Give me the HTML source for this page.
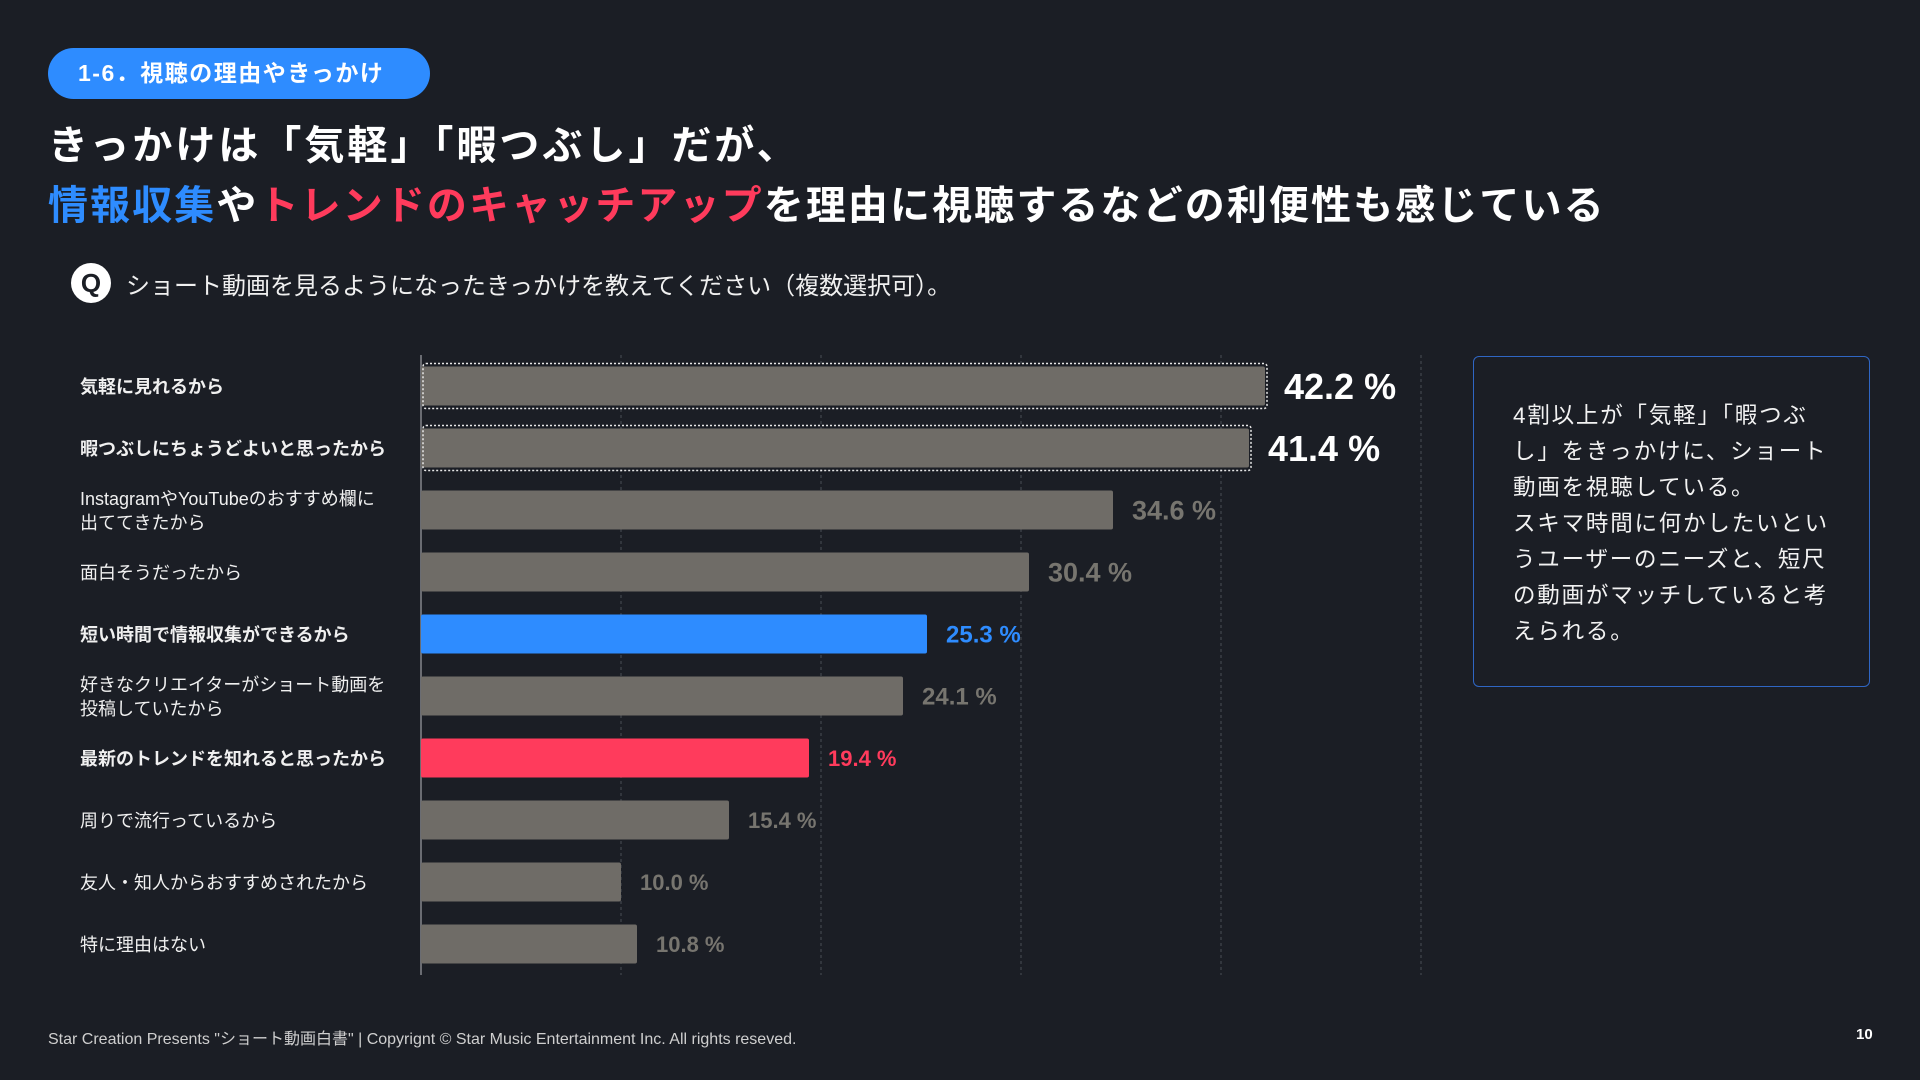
<!DOCTYPE html>
<html><head><meta charset="utf-8"><style>
body{margin:0;width:1920px;height:1080px;background:#1b1e25;overflow:hidden;font-family:"Liberation Sans","Noto Sans CJK JP",sans-serif;color:#fff;position:relative}
.abs{position:absolute}
#pill{left:48px;top:48px;width:382px;height:51px;border-radius:26px;background:#2e8cff;font-weight:bold;font-size:23px;line-height:51px;text-indent:30px;letter-spacing:1.5px}
.title{left:48px;font-size:40px;font-weight:bold;letter-spacing:2.1px;white-space:nowrap}
#note{left:1473px;top:356px;width:397px;height:331px;border:1.5px solid #2f66c4;border-radius:6px;box-sizing:border-box}
#notetext{left:1513px;top:398px;font-size:22.5px;line-height:36px;letter-spacing:1.8px;color:#f2f2f2}
#footer{left:48px;top:1025px;font-size:16px;color:#cfcfcf;white-space:nowrap}
</style></head><body>
<div id="pill" class="abs">1-6．視聴の理由やきっかけ</div>
<div class="abs title" style="top:113px;letter-spacing:3px">きっかけは「気軽」「暇つぶし」だが、</div>
<div class="abs title" style="top:173px"><span style="color:#2e8cff">情報収集</span>や<span style="color:#ff3b5c">トレンドのキャッチアップ</span>を理由に視聴するなどの利便性も感じている</div>
<div class="abs" style="left:71px;top:263px;width:40px;height:40px;border-radius:50%;background:#fff;color:#1b1e25;font-weight:bold;font-size:26px;line-height:40px;text-align:center">Q</div>
<div class="abs" style="left:126px;top:266px;font-size:24px;color:#f0f0f0;white-space:nowrap">ショート動画を見るようになったきっかけを教えてください（複数選択可）。</div>

<svg class="abs" style="left:0;top:0" width="1920" height="1080"></svg>

<div id="note" class="abs"></div>
<div id="notetext" class="abs">4割以上が「気軽」「暇つぶ<br>し」をきっかけに、ショート<br>動画を視聴している。<br>スキマ時間に何かしたいとい<br>うユーザーのニーズと、短尺<br>の動画がマッチしていると考<br>えられる。</div>
<div id="footer" class="abs">Star Creation Presents "ショート動画白書" | Copyrignt © Star Music Entertainment Inc. All rights reseved.</div>
<div class="abs" style="left:1856px;top:1026px;font-size:15px;font-weight:bold">10</div>

<script>
const categories=["気軽に見れるから","暇つぶしにちょうどよいと思ったから","InstagramやYouTubeのおすすめ欄に|出ててきたから","面白そうだったから","短い時間で情報収集ができるから","好きなクリエイターがショート動画を|投稿していたから","最新のトレンドを知れると思ったから","周りで流行っているから","友人・知人からおすすめされたから","特に理由はない"];
const values=[42.2,41.4,34.6,30.4,25.3,24.1,19.4,15.4,10.0,10.8];
const gridTicks=[10,20,30,40,50];
const highlight=["top","top","","","blue","","red","","",""];

const NS="http://www.w3.org/2000/svg";
const svg=document.querySelector("svg");
const x0=421,pxPer=20,yTop=355,rowH=62,barH=39;
const xs=v=>x0+v*pxPer;
const yc=i=>386+i*rowH;
function mk(t,a){const e=document.createElementNS(NS,t);for(const k in a)e.setAttribute(k,a[k]);svg.appendChild(e);return e;}
gridTicks.forEach(t=>{
  const g=mk("line",{x1:xs(t),x2:xs(t),y1:yTop,y2:975,stroke:"#4a4d55","stroke-width":1,"stroke-dasharray":"3,3"});
  
  
});
const ax=mk("line",{x1:x0,x2:x0,y1:yTop,y2:975,stroke:"#6a6c72","stroke-width":2});


values.forEach((v,i)=>{
  const h=highlight[i];
  const fill=h==="blue"?"#2e8cff":h==="red"?"#ff3b5c":"#6f6c67";
  const r=mk("rect",{x:x0,y:yc(i)-barH/2,width:v*pxPer,height:barH,fill:fill,rx:2});
  
  
  if(h==="top"){
    const o=mk("rect",{x:x0+2,y:yc(i)-barH/2-3,width:v*pxPer,height:barH+6,fill:"none",stroke:"#e8e8e8","stroke-width":1.5,"stroke-dasharray":"2,2",rx:3});
    
    
  }
  const big=h==="top";
  const size=big?36:(v>=30?27:(v>=24?24:22));
  const col=big?"#ffffff":h==="blue"?"#2e8cff":h==="red"?"#ff3b5c":"#77756f";
  const t=mk("text",{x:xs(v)+19,y:yc(i)+size*0.36,fill:col,"font-size":size,"font-weight":"bold","font-family":"Liberation Sans, sans-serif"});
  t.textContent=v.toFixed(1)+" %";
  
  
  const lines=categories[i].split("|");
  const bold=(h!=="");
  lines.forEach((ln,j)=>{
    const yy=yc(i)+7+(lines.length===2?(j===0?-12:12):0);
    const l=mk("text",{x:80,y:yy,fill:"#f0f0f0","font-size":18,"font-weight":bold?"bold":"normal","font-family":"Liberation Sans, Noto Sans CJK JP, sans-serif"});
    l.textContent=ln;
    
    
  });
});
</script>
</body></html>
